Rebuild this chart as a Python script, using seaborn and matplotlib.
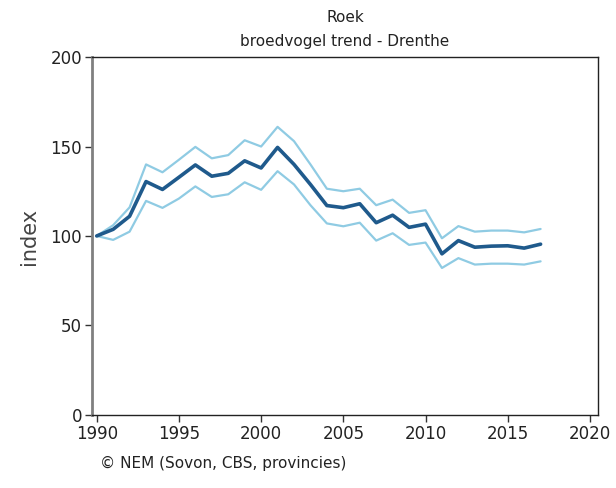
import numpy as np
import matplotlib
matplotlib.use("Agg")
import matplotlib.pyplot as plt
import pandas as pd
import seaborn as sns
from matplotlib.ticker import MultipleLocator

# data
years = list(range(1990, 2018))
index = [100, 103.7, 111, 130.4, 126, 132.8, 139.7, 133.4, 135, 142, 138, 149.5, 140, 128.8,
         117, 115.8, 118, 107.4, 111.6, 104.8, 106.6, 90, 97.4, 93.7, 94.3, 94.5, 93.2, 95.4]
upper = [100, 106, 116, 140, 135.6, 142.6, 149.8, 143.4, 145.2, 153.5, 150, 161, 153, 140,
         126.4, 125, 126.4, 117.2, 120.3, 112.9, 114.4, 98.7, 105.5, 102.4, 103, 103, 102, 103.9]
lower = [100, 97.8, 102.4, 119.6, 115.7, 120.9, 127.7, 121.8, 123.3, 130, 125.8, 136.2, 128.8, 117.2,
         107, 105.4, 107.4, 97.4, 101.5, 95, 96.3, 82.1, 87.6, 84, 84.5, 84.5, 84, 85.8]

df = pd.DataFrame({'year': years, 'index': index, 'upper': upper, 'lower': lower})

sns.set_style("white")
plt.rcParams['font.family'] = ['DejaVu Sans']

fig = plt.figure(figsize=(6.16, 4.88), dpi=100)
ax = fig.add_axes([0.149, 0.150, 0.822, 0.733])

sns.lineplot(data=df, x='year', y='upper', ax=ax, color='#8fcbe3', linewidth=1.6)
sns.lineplot(data=df, x='year', y='lower', ax=ax, color='#8fcbe3', linewidth=1.6)
sns.lineplot(data=df, x='year', y='index', ax=ax, color='#1f5a8c', linewidth=2.6)

ax.set_xlim(1989.7, 2020.5)
ax.set_ylim(0, 200)
ax.xaxis.set_major_locator(MultipleLocator(5))
ax.yaxis.set_major_locator(MultipleLocator(50))
ax.tick_params(axis='both', which='major', direction='out', length=5, width=1,
               labelsize=12, color='#333333', labelcolor='#222222', bottom=True, left=True)
ax.tick_params(axis='x', pad=2)
ax.tick_params(axis='y', pad=2)

ax.spines['left'].set_color('#808080')
ax.spines['left'].set_linewidth(2)
for s in ['top', 'right', 'bottom']:
    ax.spines[s].set_color('#222222')
    ax.spines[s].set_linewidth(1)

ax.set_xlabel('')
ax.set_ylabel('index', fontsize=15, color='#444444', labelpad=8)
ax.set_title('Roek\nbroedvogel trend - Drenthe', fontsize=11, color='#222222',
             linespacing=1.75, pad=8)

fig.text(0.162, 0.04, '\u00a9 NEM (Sovon, CBS, provincies)', fontsize=11, color='#222222')

fig.savefig('out.png', dpi=100)
